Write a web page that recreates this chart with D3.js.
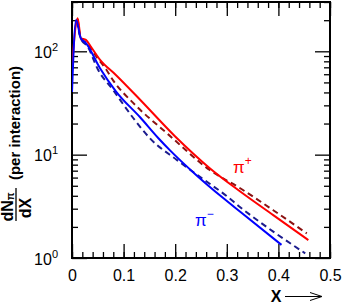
<!DOCTYPE html>
<html><head><meta charset="utf-8">
<script src="https://cdn.jsdelivr.net/npm/d3@7"></script>
<style>
html,body{margin:0;padding:0;background:#fff;}
svg{display:block;font-family:"Liberation Sans",Arial,Helvetica,sans-serif;}
</style></head>
<body>
<svg id="chart" width="342" height="305"></svg>
<script>
// ---- data ----
const xPipSolid = [0, 0.011, 0.017, 0.027, 0.037, 0.054, 0.085, 0.132, 0.2, 0.267, 0.326, 0.39, 0.458];
const yPipSolid = [70, 209, 134, 129, 110, 83, 59, 34, 15, 7.4, 4.4, 2.6, 1.49];
const xPipDash = [0.011, 0.018, 0.03, 0.045, 0.066, 0.08, 0.119, 0.186, 0.267, 0.326, 0.39, 0.455];
const yPipDash = [205, 130, 120, 92, 67, 52, 31.5, 15.8, 7.1, 4.73, 2.9, 1.73];
const xPimSolid = [0, 0.008, 0.017, 0.027, 0.054, 0.085, 0.132, 0.167, 0.19, 0.24, 0.293, 0.326, 0.406];
const yPimSolid = [40.5, 201, 134, 120, 69, 41, 23, 14.5, 11, 6.4, 3.8, 2.8, 1.34];
const xPimDash = [0.009, 0.018, 0.03, 0.05, 0.08, 0.119, 0.151, 0.203, 0.25, 0.299, 0.326, 0.39, 0.452];
const yPimDash = [195, 130, 112, 67, 42, 22.5, 14.4, 8.9, 6.0, 4.0, 3.1, 1.8, 1.11];
const xMajorTicks = [0, 0.1, 0.2, 0.3, 0.4, 0.5];
const xTickLabels = ["0", "0.1", "0.2", "0.3", "0.4", "0.5"];
const yMajorTicks = [1, 10, 100];
const yTickExponents = ["0", "1", "2"];

// ---- layout ----
const L = 72, R = 330, T = 2, B = 258;
const svg = d3.select("#chart");
const x = d3.scaleLinear().domain([0, 0.5]).range([L, R]);
const y = d3.scaleLog().domain([1, 300]).range([B, T]);

const xMinor = d3.range(0, 0.5001, 0.02).map(v => +v.toFixed(2));
const yMinor = [];
[1, 10, 100].forEach(d => { for (let k = 2; k <= 9; k++) if (d * k <= 300) yMinor.push(d * k); });

// clip
svg.append("clipPath").attr("id", "clip").append("rect")
  .attr("x", L).attr("y", T).attr("width", R - L).attr("height", B - T);

function styleAxis(g) {
  g.select(".domain").remove();
  g.selectAll(".tick line").attr("stroke", "#000").attr("stroke-width", 1.3);
}

// bottom axis
const gb = svg.append("g").attr("transform", `translate(0,${B})`)
  .call(d3.axisBottom(x).tickValues(xMajorTicks).tickSize(-14).tickSizeOuter(0).tickPadding(12)
    .tickFormat((d, i) => xTickLabels[i]));
styleAxis(gb);
gb.selectAll("text").attr("font-size", 16).attr("fill", "#000")
  .attr("font-family", '"Liberation Sans",Arial,sans-serif');
const gbm = svg.append("g").attr("transform", `translate(0,${B})`)
  .call(d3.axisBottom(x).tickValues(xMinor).tickSize(-6).tickSizeOuter(0).tickFormat(""));
styleAxis(gbm);

// top axis
const gt = svg.append("g").attr("transform", `translate(0,${T})`)
  .call(d3.axisTop(x).tickValues(xMajorTicks).tickSize(-14).tickSizeOuter(0).tickFormat(""));
styleAxis(gt);
const gtm = svg.append("g").attr("transform", `translate(0,${T})`)
  .call(d3.axisTop(x).tickValues(xMinor).tickSize(-6).tickSizeOuter(0).tickFormat(""));
styleAxis(gtm);

// left axis
const gl = svg.append("g").attr("transform", `translate(${L},0)`)
  .call(d3.axisLeft(y).tickValues(yMajorTicks).tickSize(-15).tickSizeOuter(0).tickPadding(14)
    .tickFormat(() => ""));
styleAxis(gl);
gl.selectAll(".tick text").each(function(d, i) {
  const t = d3.select(this).attr("font-size", 16).attr("fill", "#000").attr("dy", "0.38em")
    .attr("font-family", '"Liberation Sans",Arial,sans-serif');
  t.append("tspan").text("10");
  t.append("tspan").attr("font-size", 11).attr("dy", -7).text(yTickExponents[i]);
});
const glm = svg.append("g").attr("transform", `translate(${L},0)`)
  .call(d3.axisLeft(y).tickValues(yMinor).tickSize(-6).tickSizeOuter(0).tickFormat(""));
styleAxis(glm);

// right axis
const gr = svg.append("g").attr("transform", `translate(${R},0)`)
  .call(d3.axisRight(y).tickValues(yMajorTicks).tickSize(-15).tickSizeOuter(0).tickFormat(""));
styleAxis(gr);
const grm = svg.append("g").attr("transform", `translate(${R},0)`)
  .call(d3.axisRight(y).tickValues(yMinor).tickSize(-6).tickSizeOuter(0).tickFormat(""));
styleAxis(grm);

// frame
svg.append("rect").attr("x", L).attr("y", T).attr("width", R - L).attr("height", B - T)
  .attr("fill", "none").attr("stroke", "#000").attr("stroke-width", 2);

// curves
const line = d3.line().x(d => x(d[0])).y(d => y(d[1])).curve(d3.curveMonotoneX);
const series = [
  {xs: xPipDash, ys: yPipDash, color: "#8b1212", dash: "6,4"},
  {xs: xPimDash, ys: yPimDash, color: "#1c1c8e", dash: "6,4"},
  {xs: xPipSolid, ys: yPipSolid, color: "#ff0000", dash: null},
  {xs: xPimSolid, ys: yPimSolid, color: "#0000ff", dash: null}
];
const cg = svg.append("g").attr("clip-path", "url(#clip)");
series.forEach(s => {
  cg.append("path").datum(s.xs.map((v, i) => [v, s.ys[i]]))
    .attr("d", line).attr("fill", "none").attr("stroke", s.color)
    .attr("stroke-width", 2).attr("stroke-dasharray", s.dash);
});

// pi labels
const tp = svg.append("text").attr("x", 233).attr("y", 173).attr("fill", "#ff0000").attr("font-size", 17);
tp.append("tspan").text("π");
tp.append("tspan").attr("font-size", 12).attr("dy", -8).text("+");
const tm = svg.append("text").attr("x", 195).attr("y", 226).attr("fill", "#0000ff").attr("font-size", 17);
tm.append("tspan").text("π");
tm.append("tspan").attr("font-size", 12).attr("dy", -8).text("−");

// y axis title (rotated)
const yt = svg.append("g").attr("transform", "rotate(-90)")
  .attr("font-weight", "bold").attr("fill", "#000");
yt.append("text").attr("x", -123).attr("y", 20).attr("text-anchor", "middle")
  .attr("font-size", 15).text("(per interaction)");
const num = yt.append("text").attr("x", -207).attr("y", 13).attr("text-anchor", "middle").attr("font-size", 16);
num.append("tspan").text("dN");
num.append("tspan").attr("font-size", 10).attr("dy", 1).text("π");
yt.append("line").attr("x1", -221).attr("x2", -188).attr("y1", 16).attr("y2", 16)
  .attr("stroke", "#000").attr("stroke-width", 1.3);
yt.append("text").attr("x", -208).attr("y", 31).attr("text-anchor", "middle")
  .attr("font-size", 16).text("dX");

// x axis title with arrow
svg.append("text").attr("x", 276).attr("y", 302).attr("text-anchor", "middle")
  .attr("font-size", 16).attr("font-weight", "bold").text("X");
svg.append("line").attr("x1", 285).attr("x2", 321).attr("y1", 296.5).attr("y2", 296.5)
  .attr("stroke", "#000").attr("stroke-width", 1);
svg.append("path").attr("d", "M310,292.5 L322,296.5 L310,300.5").attr("fill", "none")
  .attr("stroke", "#000").attr("stroke-width", 1);
</script>
</body></html>
